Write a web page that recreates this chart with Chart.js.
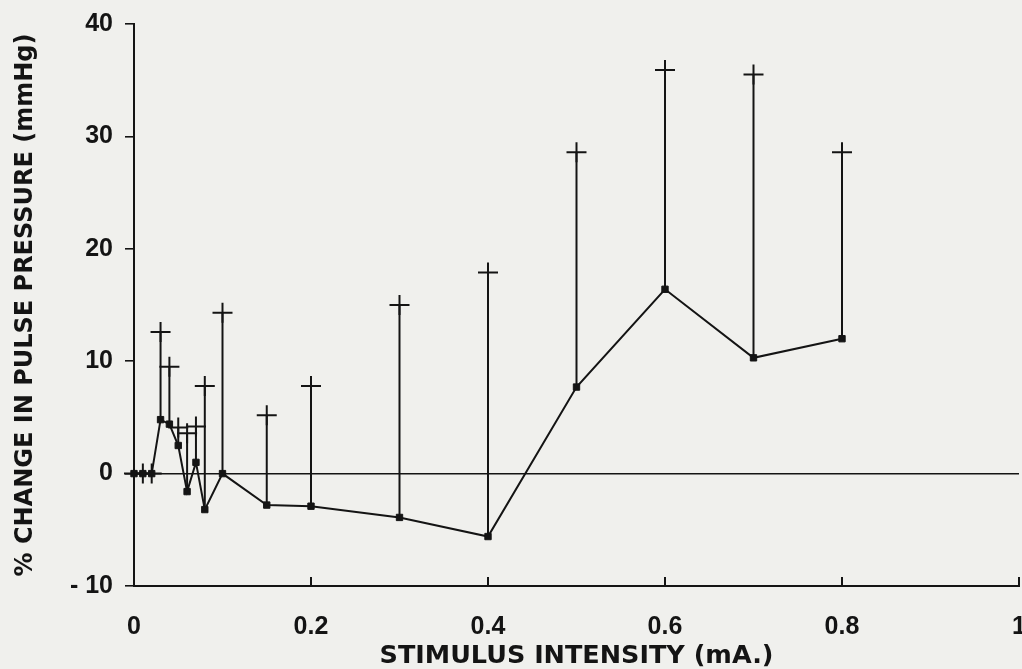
<!DOCTYPE html>
<html>
<head>
<meta charset="utf-8">
<title>Pulse pressure vs stimulus intensity</title>
<script src="https://cdn.jsdelivr.net/npm/chart.js@4"></script>
<style>
  html, body { margin: 0; padding: 0; background: #f0f0ed; overflow: hidden; }
  canvas { display: block; }
</style>
</head>
<body>
<canvas id="ppChart" width="1022" height="669"></canvas>
<script>
// stimulus intensity (mA) and % change in pulse pressure: mean and mean + error
const intensity  = [0, 0.01, 0.02, 0.03, 0.04, 0.05, 0.06, 0.07, 0.08, 0.1, 0.15, 0.2, 0.3, 0.4, 0.5, 0.6, 0.7, 0.8];
const meanChange = [0, 0, 0, 4.8, 4.4, 2.5, -1.6, 1.0, -3.2, 0, -2.8, -2.9, -3.9, -5.6, 7.7, 16.4, 10.3, 12.0];
const upperLimit = [0, 0, 0, 12.6, 9.5, 4.1, 3.6, 4.2, 7.8, 14.3, 5.2, 7.8, 15.0, 17.9, 28.6, 35.9, 35.5, 28.6];

const xTicks = [0, 0.2, 0.4, 0.6, 0.8, 1];
const yTicks = [-10, 0, 10, 20, 30, 40];

const ink = '#141414';
const tickFamily = "'Liberation Sans', Arial, Helvetica, sans-serif";
const titleFamily = "'DejaVu Sans', 'Liberation Sans', sans-serif";

// vertical bar from each mean up to its upper limit
const errorStems = {
  id: 'errorStems',
  beforeDatasetsDraw(chart) {
    const { ctx, scales: { x, y } } = chart;
    ctx.save();
    ctx.strokeStyle = ink;
    ctx.lineWidth = 2;
    intensity.forEach((v, i) => {
      const px = x.getPixelForValue(v);
      ctx.beginPath();
      ctx.moveTo(px, y.getPixelForValue(meanChange[i]));
      ctx.lineTo(px, y.getPixelForValue(upperLimit[i]));
      ctx.stroke();
    });
    ctx.restore();
  }
};

// x-axis tick marks point up into the plot
const innerTicks = {
  id: 'innerTicks',
  afterDraw(chart) {
    const { ctx, scales: { x } } = chart;
    ctx.save();
    ctx.strokeStyle = ink;
    ctx.lineWidth = 2;
    x.ticks.forEach(t => {
      const px = x.getPixelForValue(t.value);
      ctx.beginPath();
      ctx.moveTo(px, x.top);
      ctx.lineTo(px, x.top - 9);
      ctx.stroke();
    });
    ctx.restore();
  }
};

new Chart(document.getElementById('ppChart'), {
  type: 'scatter',
  data: {
    datasets: [
      {
        data: intensity.map((v, i) => ({ x: v, y: meanChange[i] })),
        showLine: true,
        borderColor: ink,
        borderWidth: 2,
        pointStyle: 'rect',
        pointRadius: 4.5,
        pointBackgroundColor: ink,
        pointBorderColor: ink,
        pointBorderWidth: 1,
        clip: false,
        order: 0
      },
      {
        data: intensity.map((v, i) => ({ x: v, y: upperLimit[i] })),
        showLine: false,
        pointStyle: 'cross',
        pointRadius: 10,
        pointBorderColor: ink,
        pointBorderWidth: 2,
        clip: false,
        order: 1
      }
    ]
  },
  options: {
    responsive: false,
    animation: false,
    layout: { autoPadding: false, padding: { top: 24, right: 3, bottom: 0, left: 0 } },
    plugins: { legend: { display: false }, tooltip: { enabled: false } },
    scales: {
      x: {
        type: 'linear',
        min: 0,
        max: 1,
        afterBuildTicks: s => { s.ticks = xTicks.map(v => ({ value: v })); },
        afterFit: s => { s.height = 83; s.paddingLeft = 0; s.paddingRight = 0; },
        grid: { drawOnChartArea: false, drawTicks: false },
        border: { color: ink, width: 2 },
        ticks: {
          color: ink,
          padding: 26,
          maxRotation: 0,
          font: { family: tickFamily, size: 25, weight: 'bold' },
          callback: v => String(v)
        },
        title: {
          display: true,
          text: 'STIMULUS INTENSITY (mA.)',
          color: ink,
          padding: { top: 0, bottom: -3 },
          font: { family: titleFamily, size: 25.5, weight: 'bold' }
        }
      },
      y: {
        min: -10,
        max: 40,
        afterBuildTicks: s => { s.ticks = yTicks.map(v => ({ value: v })); },
        afterFit: s => { s.width = 134; s.paddingTop = 0; s.paddingBottom = 0; },
        grid: {
          color: c => (c.tick && c.tick.value === 0 ? ink : 'rgba(0,0,0,0)'),
          lineWidth: 1.6,
          tickColor: ink,
          tickLength: 9,
          drawTicks: true
        },
        border: { color: ink, width: 2 },
        ticks: {
          color: ink,
          padding: 12,
          font: { family: tickFamily, size: 25, weight: 'bold' },
          callback: v => (v < 0 ? '- ' + Math.abs(v) : String(v))
        },
        title: {
          display: true,
          text: '% CHANGE IN PULSE PRESSURE (mmHg)',
          color: ink,
          padding: { top: 11, bottom: 0 },
          font: { family: titleFamily, size: 24, weight: 'bold' }
        }
      }
    }
  },
  plugins: [errorStems, innerTicks]
});
</script>
</body>
</html>
